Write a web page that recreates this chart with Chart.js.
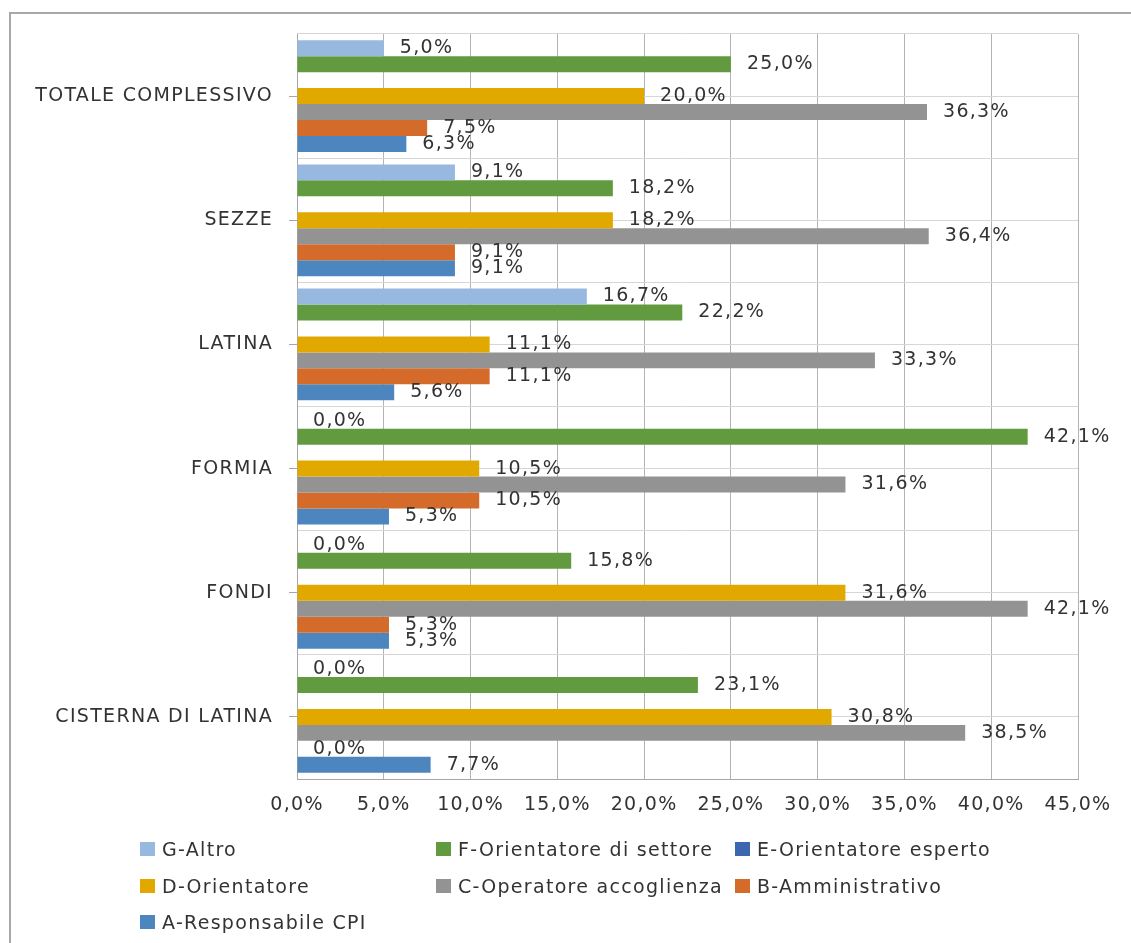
<!DOCTYPE html>
<html>
<head>
<meta charset="utf-8">
<title>Profili CPI</title>
<script src="https://cdn.jsdelivr.net/npm/chart.js@4.4.0/dist/chart.umd.min.js"></script>
<style>
  html, body { margin: 0; padding: 0; background: #fff; }
  #wrap { position: relative; width: 1131px; height: 943px; overflow: hidden; }
  #frame { position: absolute; left: 9px; top: 12px; width: 1200px; height: 1000px;
           border-left: 2px solid #a8a8a8; border-top: 2px solid #a8a8a8; }
  #chart { position: absolute; left: 0; top: 0; }
  #legend { position: absolute; left: 140px; top: 831px; display: grid;
            grid-template-columns: 296px 299px 300px; grid-auto-rows: 36.5px;
            font: 19px "DejaVu Sans", sans-serif; color: #333; letter-spacing: 1.3px; }
  .item { display: flex; align-items: center; white-space: nowrap; }
  .box { width: 15px; height: 14px; margin-right: 7px; }
</style>
</head>
<body>
<div id="wrap">
  <div id="frame"></div>
  <canvas id="chart" width="1131" height="943"></canvas>
  <div id="legend"></div>
</div>
<script>
// categorie (dall'alto verso il basso)
var sedi = ['TOTALE COMPLESSIVO', 'SEZZE', 'LATINA', 'FORMIA', 'FONDI', 'CISTERNA DI LATINA'];

// valori in %
var altro          = [5.0, 9.1, 16.7, 0.0, 0.0, 0.0];
var orientSettore  = [25.0, 18.2, 22.2, 42.1, 15.8, 23.1];
var orientEsperto  = [null, null, null, null, null, null];
var orientatore    = [20.0, 18.2, 11.1, 10.5, 31.6, 30.8];
var accoglienza    = [36.3, 36.4, 33.3, 31.6, 42.1, 38.5];
var amministrativo = [7.5, 9.1, 11.1, 10.5, 5.3, 0.0];
var responsabile   = [6.3, 9.1, 5.6, 5.3, 5.3, 7.7];

// asse x
var xMin = 0, xMax = 45, xStep = 5;

function pct(v) {
    return Number(v).toFixed(1).replace('.', ',') + '%';
}

Chart.defaults.font.family = '"DejaVu Sans", sans-serif';
Chart.defaults.font.size = 19;
Chart.defaults.color = '#333333';

// testo un po' più largo, come nel grafico originale
var spaziatura = {
    id: 'spaziatura',
    beforeDraw: function(chart) {
        chart.ctx.letterSpacing = '1.3px';
    }
};

// etichette dei valori a destra delle barre
var etichette = {
    id: 'etichette',
    afterDatasetsDraw: function(chart) {
        var ctx = chart.ctx;
        ctx.save();
        ctx.font = '19px "DejaVu Sans", sans-serif';
        ctx.fillStyle = '#333333';
        ctx.textAlign = 'left';
        ctx.textBaseline = 'middle';
        chart.data.datasets.forEach(function(ds, i) {
            chart.getDatasetMeta(i).data.forEach(function(bar, j) {
                var v = ds.data[j];
                if (v === null) return;
                ctx.fillText(pct(v), bar.x + 16, bar.y);
            });
        });
        ctx.restore();
    }
};

var ctx = document.getElementById('chart').getContext('2d');

var chart = new Chart(ctx, {
    type: 'bar',
    data: {
        labels: sedi,
        datasets: [
            { label: 'G-Altro', data: altro, backgroundColor: '#97b9e0' },
            { label: 'F-Orientatore di settore', data: orientSettore, backgroundColor: '#629b3f' },
            { label: 'E-Orientatore esperto', data: orientEsperto, backgroundColor: '#3d66b1' },
            { label: 'D-Orientatore', data: orientatore, backgroundColor: '#e1a900' },
            { label: 'C-Operatore accoglienza', data: accoglienza, backgroundColor: '#939393' },
            { label: 'B-Amministrativo', data: amministrativo, backgroundColor: '#d46b2a' },
            { label: 'A-Responsabile CPI', data: responsabile, backgroundColor: '#4d86be' }
        ]
    },
    options: {
        indexAxis: 'y',
        responsive: false,
        animation: false,
        categoryPercentage: 0.9,
        barPercentage: 1.0,
        layout: { padding: { left: 0, top: 34, right: 53, bottom: 104 } },
        plugins: {
            legend: { display: false },
            tooltip: { enabled: false }
        },
        scales: {
            x: {
                min: xMin,
                max: xMax,
                ticks: { stepSize: xStep, padding: 15, maxRotation: 0, callback: function(v) { return pct(v); } },
                grid: { color: '#b4b4b4', drawTicks: false },
                border: { color: '#a6a6a6' },
                afterFit: function(s) { s.height = 60; }
            },
            y: {
                grid: { offset: false, color: '#d6d6d6', tickColor: '#a6a6a6', tickLength: 8 },
                border: { color: '#a6a6a6' },
                ticks: { padding: 16 },
                afterFit: function(s) { s.width = 297; }
            },
            y2: {
                type: 'category',
                position: 'right',
                offset: true,
                grid: { offset: true, color: '#d6d6d6', drawTicks: false },
                ticks: { display: false },
                border: { display: false },
                afterFit: function(s) { s.width = 0; }
            }
        }
    },
    plugins: [spaziatura, etichette]
});

// legenda in 3 colonne
var legenda = document.getElementById('legend');
chart.data.datasets.forEach(function(ds) {
    legenda.innerHTML += '<div class="item"><span class="box" style="background:' +
        ds.backgroundColor + '"></span>' + ds.label + '</div>';
});
</script>
</body>
</html>
